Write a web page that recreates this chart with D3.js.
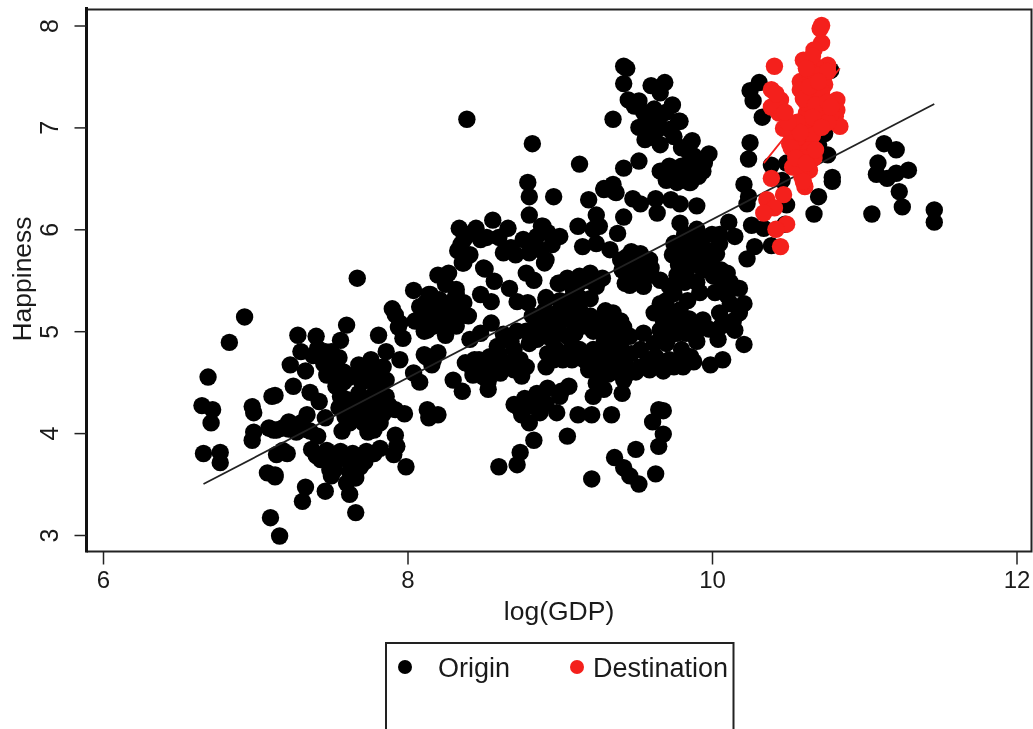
<!DOCTYPE html>
<html>
<head>
<meta charset="utf-8">
<script src="https://d3js.org/d3.v7.min.js"></script>
<style>
  html, body { margin: 0; padding: 0; background: #fff; overflow: hidden; }
  text { font-family: "Liberation Sans", Arial, sans-serif; fill: #1a1a1a; }
</style>
</head>
<body>
<div id="g"></div>
<script>
var xTicks = [6, 8, 10, 12];
var yTicks = [3, 4, 5, 6, 7, 8];
var xTitle = "log(GDP)";
var yTitle = "Happiness";
var legendNames = ["Origin", "Destination"];

// [log gdp, happiness]
var originPoints = [
  // far left
  [6.93,5.14],[6.83,4.89],[6.69,4.55],[6.65,4.27],[6.72,4.23],[6.71,4.10],[6.66,3.80],[6.77,3.81],[6.77,3.71],
  [6.98,4.26],[6.99,4.20],[7.11,4.36],[6.99,4.01],[6.98,3.93],[7.09,4.05],[7.14,4.03],
  [7.10,3.17],[7.16,2.99],[7.08,3.61],[7.13,3.57],
  // left block
  [7.60,5.06],[7.56,4.91],[7.28,4.96],[7.40,4.95],[7.81,4.96],[7.30,4.80],[7.23,4.67],[7.33,4.61],[7.25,4.46],
  [7.36,4.40],[7.42,4.31],[7.46,4.15],[7.34,4.18],[7.22,4.11],[7.13,4.37],[7.12,4.03],[7.27,4.01],[7.18,3.83],
  [7.14,3.79],[7.21,3.80],[7.13,3.59],[7.41,4.83],[7.45,4.68],[7.52,4.68],[7.47,4.57],[7.53,4.46],[7.68,4.67],
  [7.62,4.55],[7.86,4.80],[7.95,4.72],[7.84,4.65],[7.75,4.62],[7.86,4.52],[7.80,4.46],[7.68,4.39],[7.60,4.33],
  [7.86,4.36],[7.75,4.26],[7.64,4.23],[7.59,4.16],[7.84,4.19],[7.98,4.19],[7.92,4.23],[7.57,4.02],[7.71,4.10],
  [7.74,4.01],[7.82,4.10],[7.41,3.97],[7.92,3.98],[7.93,3.87],[7.91,3.79],[7.82,3.85],[7.73,3.82],[7.64,3.80],
  [7.56,3.82],[7.47,3.83],[7.37,3.84],[7.43,3.74],[7.49,3.64],[7.59,3.75],[7.69,3.67],[7.66,3.56],[7.62,3.40],
  [7.46,3.43],[7.33,3.47],[7.31,3.33],[7.66,3.22],[7.99,3.67],[7.52,3.64],[7.60,3.51],[7.97,4.93],[7.94,5.04],
  [7.92,5.16],[8.04,4.59],[8.08,4.50],[8.13,4.23],[8.14,4.15],[8.20,4.18],[8.12,4.75],[8.17,4.72],[8.13,5.01],
  [8.17,5.08],[7.67,5.52],[7.50,4.80],[7.70,4.50],[7.78,4.38],[7.50,3.78],[7.72,3.72],
  [7.58,4.60],[7.66,4.58],[7.74,4.52],[7.76,4.72],[7.80,4.62],[7.56,4.36],[7.65,4.32],[7.72,4.33],[7.82,4.30],
  [7.88,4.27],[7.55,4.25],[7.70,4.20],[7.78,4.18],[7.62,4.10],[7.68,4.16],[7.78,4.03],[7.18,4.05],[7.32,4.04],
  [7.22,4.04],[7.36,4.02],[7.30,4.10],[7.45,3.78],[7.54,3.76],[7.62,3.72],[7.70,3.76],[7.78,3.80],[7.40,3.78],
  [7.52,3.70],[7.62,3.62],[7.66,3.70],[7.50,3.58],[7.46,4.80],[7.50,4.72],[7.48,4.62],[7.55,4.74],[7.58,4.50],
  [7.52,4.55],[7.38,4.76],
  // bottom edge of the middle
  [8.60,3.67],[8.72,3.69],[8.74,3.81],[8.83,3.93],[9.05,3.97],[9.21,3.55],[9.36,3.76],[9.42,3.66],[9.46,3.58],
  [9.52,3.50],[9.63,3.60],[9.50,3.84],[9.65,3.87],[9.68,3.99],[9.61,4.11],[9.65,4.23],[9.68,4.22],[9.34,4.18],
  [9.21,4.18],[9.12,4.18],[8.30,4.52],[8.36,4.41],[8.53,4.43],[8.53,4.51],
  [8.70,4.28],[8.77,4.34],[8.85,4.39],[8.92,4.44],[9.06,4.46],[9.00,4.36],[8.91,4.29],[8.83,4.26],[8.75,4.18],
  [8.80,4.10],[8.98,4.20],[8.87,4.20],[8.73,4.25],[9.01,4.41],
  // middle
  [8.20,5.55],[8.27,5.57],[8.25,5.46],[8.37,5.67],[8.50,5.62],[8.57,5.49],[8.67,5.42],[8.72,5.29],[8.79,5.28],
  [8.48,5.36],[8.55,5.29],[8.78,5.57],[8.83,5.50],[8.91,5.33],[8.99,5.47],[8.90,5.67],[8.04,5.40],[7.90,5.22],
  [8.15,5.36],[8.21,5.31],[8.08,5.24],[8.32,5.37],[8.19,5.19],[8.28,5.21],[8.37,5.28],[8.40,5.15],[7.95,5.08],
  [8.11,5.00],[8.25,4.96],[8.17,5.05],[8.32,5.05],[8.41,4.92],[8.55,5.08],[8.48,4.98],
  [8.11,4.77],[8.20,4.79],[8.16,4.67],[8.38,4.69],[8.44,4.72],[8.43,4.57],[8.52,4.62],[8.61,4.59],[8.74,4.72],
  [8.78,4.65],[8.75,4.56],[8.65,4.69],[8.54,4.75],[8.59,4.85],[8.63,4.97],[8.72,5.00],[8.78,5.00],[8.85,4.92],
  [8.80,4.88],[8.91,4.65],[8.98,4.82],[9.02,4.72],[8.96,4.72],[8.89,5.13],[9.00,5.08],
  [8.05,5.10],[8.12,5.15],[8.25,5.10],[8.35,5.15],[8.30,5.30],[8.12,5.28],[8.42,4.65],[8.50,4.55],[8.60,4.67],
  [8.70,4.62],[8.47,4.72],[8.60,4.78],[8.70,4.82],[8.68,4.90],[8.90,5.20],[8.82,5.15],[8.92,4.95],[8.85,5.02],
  // dense block right of the middle
  [9.19,4.62],[9.24,4.49],[9.22,4.36],[9.29,4.43],[9.41,4.39],[9.42,4.52],[9.24,4.65],[9.37,4.65],[9.53,4.82],
  [9.59,4.62],[9.68,4.61],[9.70,4.69],[9.63,4.75],[9.45,4.59],[9.30,4.75],[9.20,4.75],[9.40,4.75],
  [9.19,6.29],[9.29,6.40],[9.35,6.44],[9.36,6.37],[9.48,6.30],[9.53,6.25],[9.63,6.30],[9.64,6.16],[9.73,6.29],
  [9.79,6.25],[9.90,6.23],[9.42,6.12],[9.38,5.96],[9.24,6.14],[9.12,6.03],[9.22,6.00],[9.26,6.03],[9.15,5.83],
  [9.24,5.86],[9.33,5.80],[9.00,5.93],[8.89,6.03],[8.91,5.70],[9.44,5.73],[9.53,5.76],[9.41,5.60],[9.53,5.63],
  [9.59,5.70],[9.43,5.47],[9.55,5.44],[9.46,5.45],[9.66,5.50],[9.77,5.55],[9.79,6.06],[9.90,6.00],[9.75,5.86],
  [9.74,5.75],[9.86,5.90],[9.83,5.73],[9.96,5.80],[10.05,5.86],[10.11,6.07],[10.15,5.93],[10.03,5.76],[9.94,5.60],
  [9.83,5.57],[10.10,5.57],[10.01,5.54],[10.18,5.42],[10.21,5.27],[10.18,5.18],[10.05,5.18],[9.94,5.11],[10.04,4.92],
  [10.15,5.01],[10.21,4.87],[10.07,4.72],[9.99,4.67],[9.88,4.70],[9.81,4.65],[9.75,5.37],[9.66,5.27],[9.79,5.21],
  [9.68,5.11],[9.77,4.98],[9.66,5.01],[9.83,4.98],[9.55,4.98],[9.70,4.88],[9.64,4.72],[9.75,4.65],[9.84,5.30],
  [9.92,5.38],[10.02,5.38],[10.10,5.35],[9.85,5.12],[9.90,4.90],[9.80,4.82],
  [9.13,5.54],[9.20,5.57],[9.00,5.47],[9.09,5.40],[9.24,5.44],[9.13,5.21],[9.07,5.11],[9.15,5.05],[9.26,5.11],
  [9.35,5.18],[9.42,5.04],[9.29,4.88],[9.02,4.75],[9.13,4.82],[9.40,4.85],[8.91,5.31],[9.53,4.65],[9.34,4.65],
  [9.44,4.65],[9.22,5.00],[9.34,5.00],[9.05,4.95],
  [9.05,5.52],[9.12,5.46],[9.18,5.50],[9.28,5.52],[9.06,5.30],[9.14,5.32],[9.00,5.30],[9.20,5.32],[9.06,5.20],
  [9.20,5.15],[9.30,5.20],[9.12,5.10],[9.20,5.08],[9.34,5.09],[9.40,5.10],[8.98,5.18],[9.00,4.98],[9.10,4.98],
  [9.28,4.98],[9.36,4.92],[9.46,4.95],[9.08,4.85],[9.22,4.82],[9.34,4.78],[9.47,4.78],[9.08,4.72],[9.16,4.72],
  [9.25,4.72],[9.32,4.58],[9.38,4.60],[9.28,4.58],[9.50,4.60],[9.58,4.72],[8.93,5.05],[8.95,4.92],[8.92,4.78],
  [9.60,5.55],[9.72,5.44],[9.70,5.30],[9.72,5.20],[9.62,5.18],[9.74,5.08],[9.82,5.08],[9.72,4.95],[9.62,4.88],
  [9.84,5.62],[9.90,5.68],[10.00,5.65],[10.06,5.60],[10.12,5.48],[10.08,5.45],[9.90,5.48],[9.82,5.48],[9.78,5.65],
  [9.80,5.80],[9.88,5.82],[9.82,5.95],[9.92,5.90],[10.00,5.95],[10.05,5.95],[9.96,5.70],[10.12,5.27],[10.14,5.10],
  [10.06,5.05],[9.98,5.02],[9.90,5.00],[9.80,4.72],[9.72,4.72],[9.86,4.75],[9.50,5.55],[9.60,5.62],[9.48,5.68],
  [9.40,5.70],[9.47,5.78],[9.52,5.52],
  // upper stretch
  [8.39,7.08],[8.82,6.84],[9.13,6.64],[9.35,7.08],[9.42,7.60],[9.44,7.58],[9.42,7.43],[9.45,7.27],[9.52,7.26],
  [9.49,7.21],[9.60,7.41],[9.69,7.44],[9.66,7.34],[9.74,7.22],[9.78,7.06],[9.52,7.00],[9.59,7.06],[9.66,7.11],
  [9.64,6.98],[9.56,6.88],[9.66,6.83],[9.75,6.91],[9.86,6.85],[9.98,6.74],[9.88,6.72],[9.52,6.67],[9.42,6.60],
  [9.29,6.39],[9.37,6.36],[8.96,6.32],[8.79,6.46],[8.80,6.32],[8.80,6.14],[8.56,6.09],
  [8.34,6.01],[8.45,6.01],[8.66,6.01],[8.52,5.92],[8.60,5.92],[8.63,5.77],[8.71,5.75],[8.88,6.03],
  [8.76,5.90],[8.85,5.93],[8.87,5.80],[8.80,5.77],[8.37,5.90],[8.33,5.79],[8.41,5.75],[8.36,5.67],
  [8.51,5.61],[8.32,5.41],[8.14,5.36],
  [9.66,6.57],[9.75,6.55],[9.83,6.59],[9.94,6.57],[9.77,6.46],[9.86,6.46],[9.91,6.52],
  [9.55,7.15],[9.62,7.18],[9.70,7.15],[9.58,6.95],[9.62,6.90],[9.72,6.98],[9.80,6.80],[9.80,6.62],[9.72,6.62],
  [9.70,6.48],[9.82,6.50],[9.95,6.65],[9.85,6.75],[8.48,5.90],[8.40,5.95],[8.95,5.85],[8.83,5.85],
  [8.92,5.97],[8.68,5.82],[8.35,5.85],
  // right
  [10.31,7.44],[10.25,7.36],[10.27,7.26],[10.33,7.10],[10.25,6.85],[10.24,6.69],[9.79,7.06],[9.87,6.87],
  [9.92,6.59],[9.85,6.46],[10.21,6.44],[10.24,6.32],[10.23,6.25],[10.26,6.04],[10.34,6.01],[10.28,5.83],[10.23,5.71],
  [10.39,6.63],[10.49,6.65],[10.46,6.48],[10.74,6.94],[10.70,6.83],[10.76,6.73],[10.79,6.47],[10.79,6.51],[10.70,6.32],
  [10.67,6.15],[10.49,6.24],[10.39,5.84],[10.48,6.05],[10.73,7.27],[10.78,7.56],
  [11.13,6.84],[11.21,6.78],[11.09,6.65],[11.08,6.54],[11.21,6.55],[11.29,6.58],
  [11.23,6.37],[11.25,6.22],[11.05,6.15],[11.46,6.19],[11.46,6.07],[11.15,6.50]
];

var destinationPoints = [
  [10.72,8.00],[10.71,7.97],[10.72,7.83],[10.67,7.76],[10.60,7.66],[10.76,7.61],[10.72,7.56],[10.58,7.45],[10.64,7.53],
  [10.63,7.33],[10.74,7.42],[10.58,7.37],[10.70,7.30],[10.41,7.60],[10.39,7.37],[10.45,7.27],[10.39,7.20],[10.44,7.14],
  [10.82,7.27],[10.82,7.17],[10.81,7.11],[10.84,7.01],[10.71,7.17],[10.62,7.14],[10.69,7.04],[10.60,7.01],[10.47,6.99],
  [10.53,6.94],[10.62,6.84],[10.51,6.84],[10.58,6.75],[10.67,6.70],[10.53,6.61],[10.64,6.58],[10.61,6.42],[10.59,6.52],
  [10.39,6.50],[10.47,6.34],[10.36,6.29],[10.41,6.21],[10.34,6.16],[10.49,6.05],[10.42,6.00],[10.45,5.83],
  [10.66,7.45],[10.68,7.60],[10.56,6.90],[10.66,6.92],[10.58,6.62],[10.62,7.24],[10.74,7.18],[10.78,7.13],
  [10.68,7.42],[10.72,7.35],[10.60,7.28],[10.64,7.40],[10.68,7.22],[10.76,7.25],[10.76,7.05],[10.66,7.10],[10.56,7.05],
  [10.52,6.80],[10.58,6.95],[10.64,6.78],[10.60,6.70],[10.55,6.70],[10.60,6.47],[10.62,6.65],[10.68,6.78],[10.72,7.00],
  [10.78,7.20],[10.66,7.70],[10.68,7.52],[10.62,7.58],[10.76,7.55],[10.70,7.45],[10.50,7.05],[10.42,7.22],[10.42,7.33],
  [10.48,7.15]
];

var originFit = [[6.66, 3.50], [11.46, 7.23]];
var destinationFit = [[10.34, 6.65], [10.84, 7.58]];

var WIDTH = 1033, HEIGHT = 729;
var FRAME = { left: 86.5, right: 1031.5, top: 9.5, bottom: 551.5 };

var svg = d3.select("#g").append("svg")
    .attr("width", WIDTH)
    .attr("height", HEIGHT)
    .style("display", "block")
    .style("filter", "blur(0.5px)");

var x = d3.scaleLinear().domain([6, 12]).range([103, 1016.5]);
var y = d3.scaleLinear().domain([3, 8]).range([535, 25.5]);

function drawPoints(points, fill, r) {
    svg.append("g").selectAll("circle")
        .data(points)
        .enter()
        .append("circle")
        .attr("cx", function(d) { return x(d[0]); })
        .attr("cy", function(d) { return y(d[1]); })
        .attr("r", r)
        .attr("fill", fill);
}

function drawFit(ends, stroke) {
    svg.append("line")
        .attr("x1", x(ends[0][0])).attr("y1", y(ends[0][1]))
        .attr("x2", x(ends[1][0])).attr("y2", y(ends[1][1]))
        .attr("stroke", stroke)
        .attr("stroke-width", 1.8);
}

drawPoints(originPoints, "#000", 8.7);
drawFit(originFit, "#222");
drawFit(destinationFit, "#f4201c");
drawPoints(destinationPoints, "#f4201c", 8.7);

/* ------------frame and axes----------------- */
svg.append("path")
    .attr("d", "M" + FRAME.left + "," + FRAME.bottom + "H" + FRAME.right + "V" + FRAME.top + "H" + FRAME.left)
    .attr("fill", "none")
    .attr("stroke", "#222")
    .attr("stroke-width", 2);
svg.append("line")
    .attr("x1", FRAME.left).attr("x2", FRAME.left)
    .attr("y1", 7).attr("y2", FRAME.bottom + 1)
    .attr("stroke", "#111")
    .attr("stroke-width", 3);

var xAxis = svg.append("g")
    .attr("transform", "translate(0," + FRAME.bottom + ")")
    .call(d3.axisBottom(x).tickValues(xTicks).tickSize(13).tickPadding(6).tickFormat(d3.format("d")));
var yAxis = svg.append("g")
    .attr("transform", "translate(" + FRAME.left + ",0)")
    .call(d3.axisLeft(y).tickValues(yTicks).tickSize(12).tickFormat(d3.format("d")));

xAxis.select(".domain").remove();
yAxis.select(".domain").remove();
svg.selectAll(".tick line").attr("stroke", "#222").attr("stroke-width", 1.5);
xAxis.selectAll("text").attr("font-size", 24).style("font-family", "Liberation Sans");

yAxis.selectAll("text")
    .attr("font-size", 25)
    .attr("dy", 0)
    .attr("x", 0)
    .attr("text-anchor", "middle")
    .attr("transform", "translate(-35,0) rotate(-90)")
    .attr("dominant-baseline", "middle");

svg.append("text")
    .attr("x", 559).attr("y", 620)
    .attr("text-anchor", "middle")
    .attr("font-size", 26.5)
    .text(xTitle);

svg.append("text")
    .attr("transform", "translate(31,279) rotate(-90)")
    .attr("text-anchor", "middle")
    .attr("font-size", 26.5)
    .text(yTitle);

/* ------------legend----------------- */
svg.append("path")
    .attr("d", "M386,729V643H733.5V729")
    .attr("fill", "none")
    .attr("stroke", "#222")
    .attr("stroke-width", 2);

var legendItems = [
    { name: legendNames[0], fill: "#000", cx: 405, tx: 438 },
    { name: legendNames[1], fill: "#f4201c", cx: 577, tx: 593 }
];
var legend = svg.append("g").selectAll("g")
    .data(legendItems)
    .enter()
    .append("g");
legend.append("circle")
    .attr("cx", function(d) { return d.cx; })
    .attr("cy", 667)
    .attr("r", 7)
    .attr("fill", function(d) { return d.fill; });
legend.append("text")
    .attr("x", function(d) { return d.tx; })
    .attr("y", 677)
    .attr("font-size", 27)
    .text(function(d) { return d.name; });
</script>
</body>
</html>
